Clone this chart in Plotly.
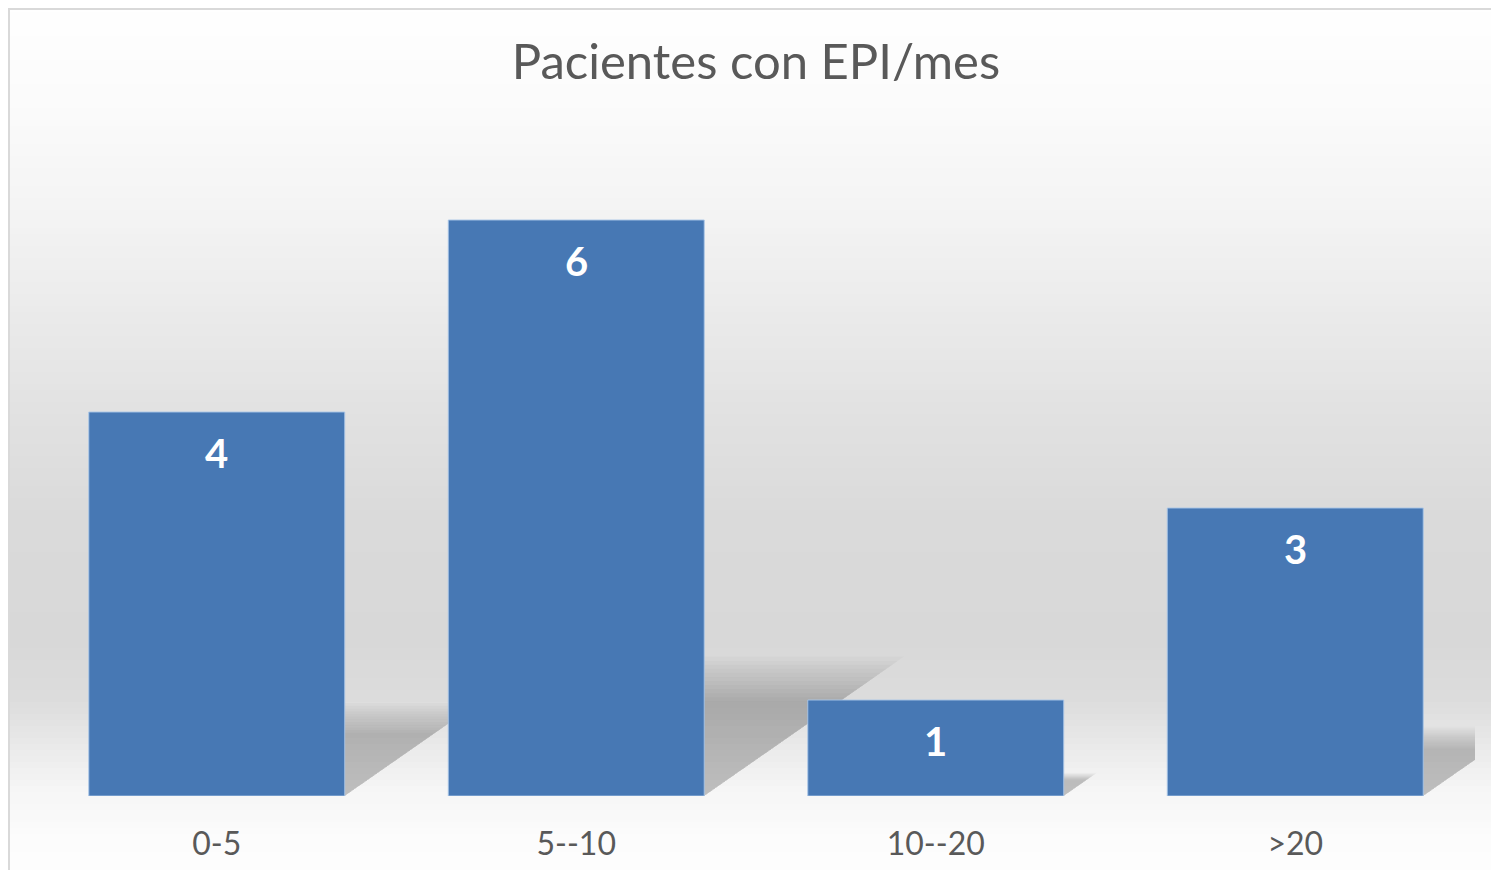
import plotly.graph_objects as go

categories = ["0-5", "5--10", "10--20", ">20"]
patients = [4, 6, 1, 3]
title_text = "Pacientes con EPI/mes"

# the page has an 8px body margin, so the figure is a bit smaller than the window
OFF = 8
W, H = 1499 - 2 * OFF, 878 - 2 * OFF
ML, MR, MT, MB = 29, 16, 116, 74
PW, PH = W - ML - MR, H - MT - MB
BARGAP = 0.288


def px_x(px):
    return (px - ML) / PW


def px_y(py):
    return (H - MB - py) / PH


fig = go.Figure()
fig.add_trace(
    go.Bar(
        x=categories,
        y=patients,
        marker=dict(color="#4778b4", line=dict(color="rgba(170,198,232,0.9)", width=1)),
        hoverinfo="x+y",
    )
)

shapes = []

# background gradient (white top -> grey middle -> white bottom), page pixel rows
stops = [(0, 255), (120, 250), (220, 243), (320, 234), (420, 225),
         (520, 218), (640, 216), (700, 220), (740, 232), (790, 246),
         (840, 252), (878, 254)]


def grey_at(py):
    for (y0, g0), (y1, g1) in zip(stops, stops[1:]):
        if y0 <= py <= y1:
            return g0 + (g1 - g0) * (py - y0) / (y1 - y0)
    return stops[-1][1]


step = 6
for py in range(-OFF, H + OFF, step):
    g = int(round(grey_at(py + OFF + step / 2)))
    shapes.append(dict(
        type="rect", xref="paper", yref="paper", layer="below",
        x0=px_x(-2), x1=px_x(W + 2), y0=px_y(py + step + 1), y1=px_y(py),
        fillcolor=f"rgb({g},{g},{g})", line=dict(width=0),
    ))

# soft perspective shadows behind each bar
half = (1 - BARGAP) / 2
n_layers = 12
for i, v in enumerate(patients):
    for j in range(n_layers):
        k = 1.03 - 0.33 * j / (n_layers - 1)
        s = 0.235 * v * k
        dx = 0.09 * v * k
        xl, xr = i - half, i + half
        path = f"M {xl},0 L {xr},0 L {xr + dx},{s} L {xl + dx},{s} Z"
        shapes.append(dict(
            type="path", xref="x", yref="y", layer="below", path=path,
            fillcolor="rgba(0,0,0,0.018)", line=dict(width=0),
        ))

# chart border (left and top visible)
shapes.append(dict(
    type="rect", xref="paper", yref="paper", layer="above",
    x0=px_x(1), x1=px_x(W + 10), y0=px_y(H + 10), y1=px_y(1),
    line=dict(color="#d9d9d9", width=2), fillcolor="rgba(0,0,0,0)",
))

annotations = [
    dict(x=c, y=v, xref="x", yref="y", text=str(v), showarrow=False,
         yshift=-41, yanchor="middle",
         font=dict(family="Lato", size=40, color="white", weight="bold"))
    for c, v in zip(categories, patients)
]

fig.update_layout(
    width=W,
    height=H,
    margin=dict(l=ML, r=MR, t=MT, b=MB),
    paper_bgcolor="white",
    plot_bgcolor="rgba(0,0,0,0)",
    bargap=BARGAP,
    showlegend=False,
    shapes=shapes,
    annotations=annotations,
    title=dict(
        text=title_text,
        x=0.5,
        xref="paper",
        xanchor="center",
        y=1 - (62 - OFF) / H,
        yanchor="middle",
        font=dict(family="Lato", size=49, color="#595959"),
    ),
)

fig.update_xaxes(
    range=[-0.5, len(categories) - 0.5],
    automargin=False,
    showgrid=False,
    showline=False,
    zeroline=False,
    ticks="",
    ticklabelstandoff=26,
    tickfont=dict(family="Lato", size=32, color="#595959"),
)
fig.update_yaxes(
    range=[0, 7],
    automargin=False,
    showgrid=False,
    zeroline=False,
    showline=False,
    showticklabels=False,
    ticks="",
)

fig.write_html("out.html")
